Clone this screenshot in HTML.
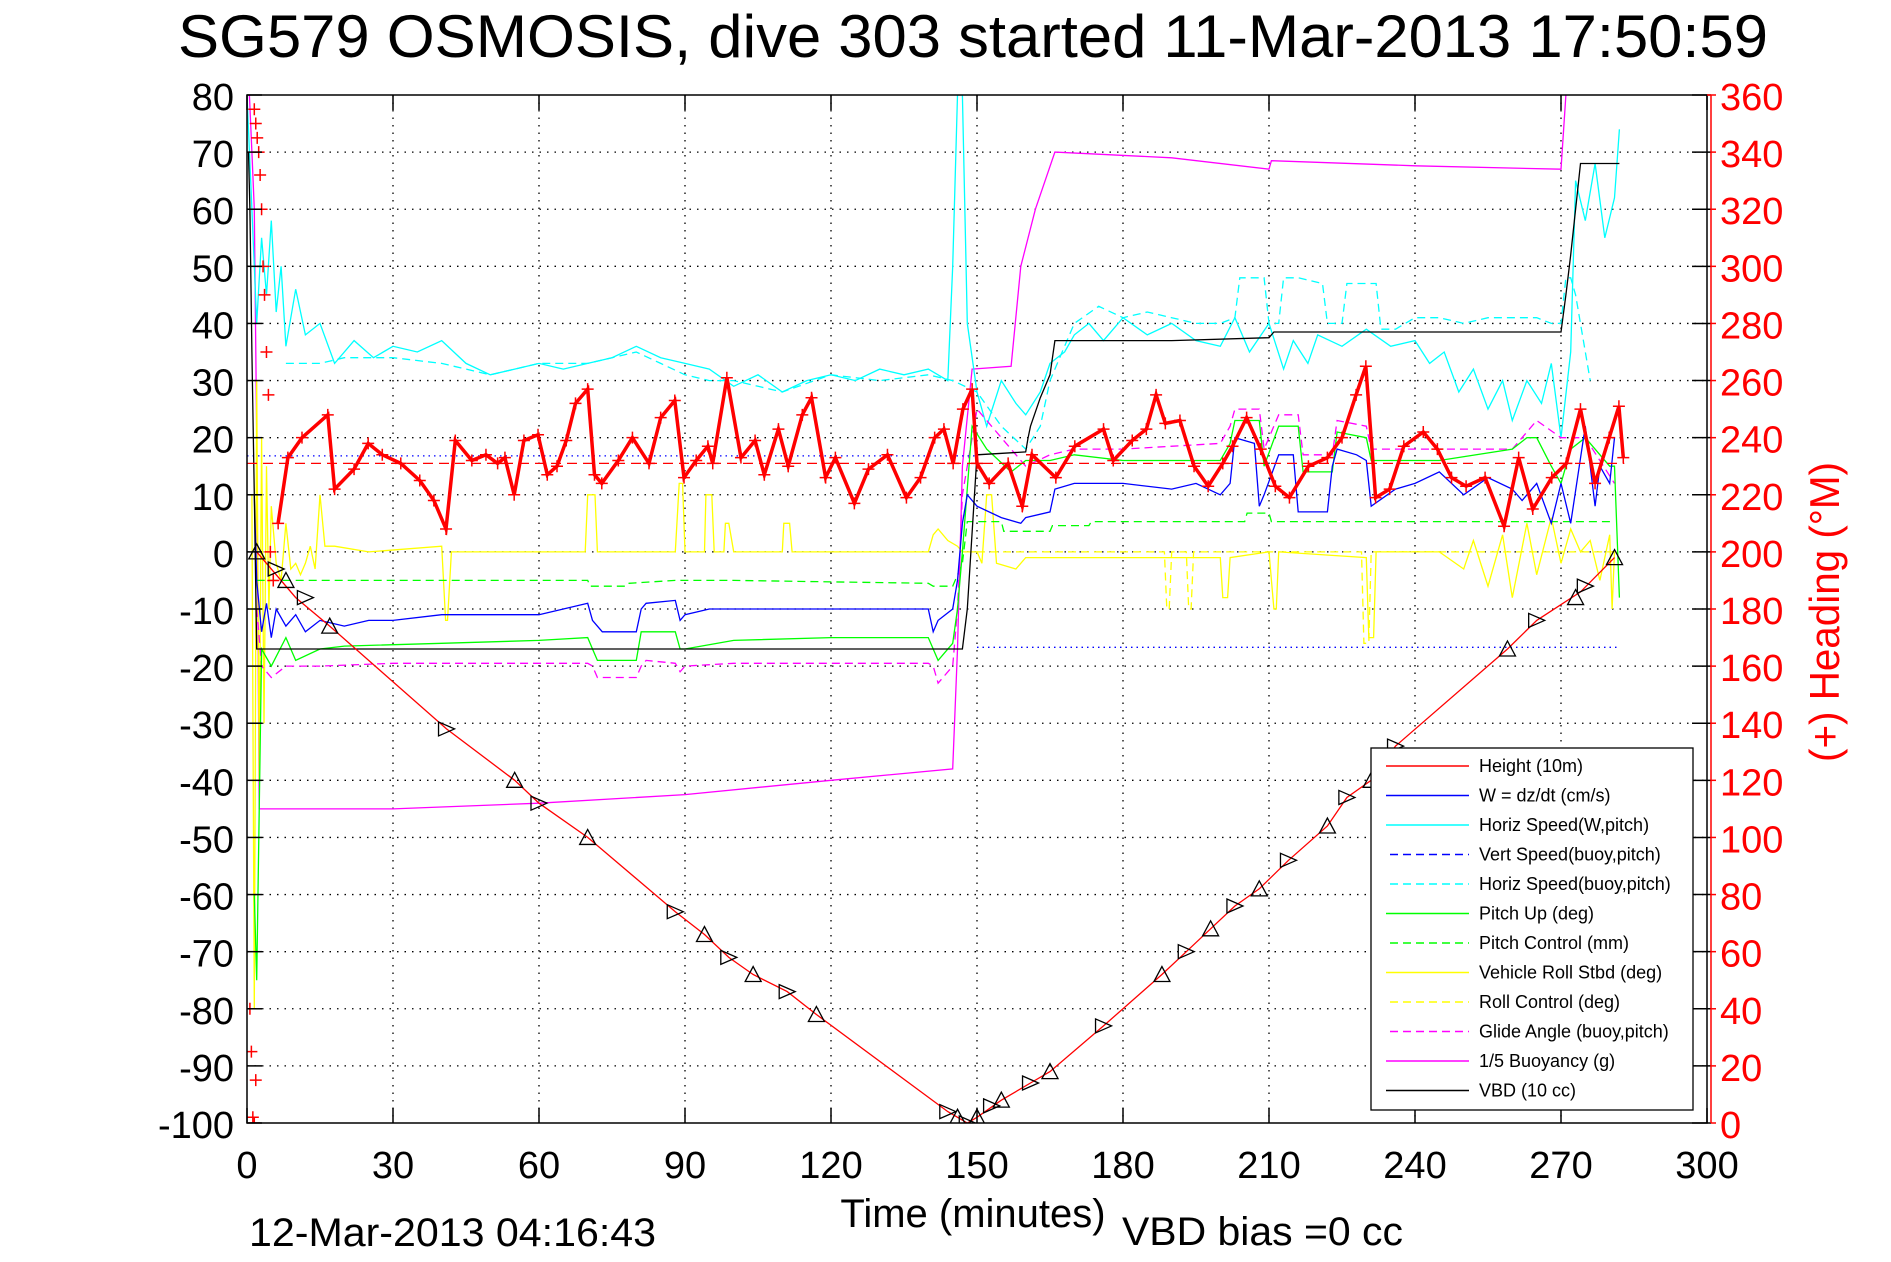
<!DOCTYPE html>
<html><head><meta charset="utf-8"><style>
html,body{margin:0;padding:0;background:#fff;}
svg{display:block;font-family:"Liberation Sans",sans-serif;}
</style></head><body>
<svg id="chart" width="1891" height="1262" viewBox="0 0 1891 1262" xmlns="http://www.w3.org/2000/svg">
<defs><clipPath id="pc"><rect x="247" y="95" width="1460" height="1028"/></clipPath></defs>
<rect x="0" y="0" width="1891" height="1262" fill="#fff"/>
<text x="973" y="57" font-size="60" text-anchor="middle" textLength="1590" lengthAdjust="spacingAndGlyphs">SG579 OSMOSIS, dive 303 started 11-Mar-2013 17:50:59</text>
<g id="grid"></g>
<g id="series" clip-path="url(#pc)"></g>
<g id="axes"></g>
<text x="973" y="1227" font-size="40" text-anchor="middle">Time (minutes)</text>
<text x="249" y="1246" font-size="40" textLength="407" lengthAdjust="spacingAndGlyphs">12-Mar-2013 04:16:43</text>
<text x="1122" y="1245" font-size="40" textLength="281" lengthAdjust="spacingAndGlyphs">VBD bias =0 cc</text>
<text transform="translate(1839,612) rotate(-90)" font-size="42" fill="#f00" text-anchor="middle" textLength="300" lengthAdjust="spacingAndGlyphs">(+) Heading (°M)</text>
<g id="legend"></g>
</svg>
<script>
const xTicks=[0,30,60,90,120,150,180,210,240,270,300];
const yTicks=[80,70,60,50,40,30,20,10,0,-10,-20,-30,-40,-50,-60,-70,-80,-90,-100];
const headTicks=[360,340,320,300,280,260,240,220,200,180,160,140,120,100,80,60,40,20,0];

const heightT=[2,10,17,41,55,60,70,88,94,99,104,111,117,144,148,150,155,161,165,176,188,193,198,203,208,214,222,226,231,236,259,265,274,281];
const heightV=[0,-8,-13,-31,-40,-44,-50,-63,-67,-71,-74,-77,-81,-98,-100,-99,-96,-93,-91,-83,-74,-70,-66,-62,-59,-54,-48,-43,-40,-34,-17,-12,-7,-1];
const markerT=[2,6,8,12,17,41,55,60,70,88,94,99,104,111,117,144,146,148,150,153,155,161,165,176,188,193,198,203,208,214,222,226,231,236,259,265,273,275,281];
const markerV=[0,-3,-5,-8,-13,-31,-40,-44,-50,-63,-67,-71,-74,-77,-81,-98,-99,-100,-99,-97,-96,-93,-91,-83,-74,-70,-66,-62,-59,-54,-48,-43,-40,-34,-17,-12,-8,-6,-1];

const headT=[6.4,8.4,11.3,16.6,18,22,24.9,27.8,31.6,35.5,38.4,40.9,42.8,46.2,49.1,51.5,53,54.9,56.9,59.8,61.7,63.7,65.6,67.5,70,71.4,72.9,76.3,79.2,82.6,85,87.9,89.8,92.3,94.7,95.7,98.6,101.5,104.4,106.3,109.2,111.2,114.1,116,118.9,120.9,124.8,127.7,131.6,135.5,138.4,141.3,143.2,145.1,147.1,149,150,152.5,156.4,159.3,161.3,166.2,170.1,176,178,181.9,184.8,186.8,188.7,191.7,194.6,197.5,200.5,202.5,205.4,208.3,211.3,214.2,218.1,222,225,227.9,229.9,231.9,234.8,237.7,241.7,244.6,247.5,250.5,254.4,258.3,261.3,264.2,268.1,271.1,274,277,279.9,281.9,282.8];
const headV=[210,233,240,248,222,229,238,234,231,225,218,208,239,232,234,231,233,220,239,241,227,230,239,252,257,227,224,232,240,231,247,253,226,232,237,231,261,233,239,227,243,230,248,254,226,233,217,229,234,219,226,240,243,231,250,257,231,224,231,216,234,226,237,243,232,239,243,255,245,246,230,223,231,237,247,236,223,219,230,233,240,255,265,219,222,237,242,236,226,223,226,209,233,215,226,231,250,224,240,251,233];
const headScatT=[1.5,1.8,2.1,2.4,2.7,3,3.3,3.6,4,4.4,0.6,0.9,1.2,1.5,1.8,4.8,5.4];
const headScatV=[355,350,345,340,332,320,300,290,270,255,40,25,2,0,15,200,190];
const headRef=231;

const hsT=[0,1,2,3,4,5,6,7,8,10,12,15,18,22,26,30,35,40,45,50,55,60,65,70,75,80,85,90,95,100,105,110,115,120,125,130,135,140,144,145,146,147,148,150,152,155,158,160,163,165,168,170,173,176,180,185,190,195,200,203,206,210,213,215,218,220,225,230,235,240,243,246,249,252,255,258,260,263,266,268,270,272,273,275,277,279,281,282];
const hsV=[80,60,40,55,45,58,42,50,36,46,38,40,33,37,34,36,35,37,33,31,32,33,32,33,34,36,34,33,32,29,31,28,30,31,30,32,31,32,30,50,80,80,40,28,22,30,26,24,28,33,35,38,40,37,41,38,40,37,36,41,35,40,32,37,33,38,36,39,36,37,33,35,28,32,25,30,23,30,26,33,20,35,65,58,68,55,62,74];
const hbT=[8,15,20,30,40,50,55,60,70,75,80,85,90,95,100,105,110,120,130,140,145,150,155,160,163,165,168,170,175,180,185,190,195,200,203,204,209,210,212,213,216,221,222,225,226,228,232,233,236,240,245,250,255,260,265,268,270,271,272,273,276];
const hbV=[33,33,34,34,33,31,32,33,33,34,35,33,31,30,30,29,28,31,30,31,30,28,22,18,22,30,36,40,43,41,42,41,40,40,41,48,48,40,40,48,48,47,40,40,47,47,47,39,39,41,41,40,41,41,41,40,40,48,48,45,30];
const wT=[1.5,2,3,4,5,6,8,10,12,15,20,25,30,40,50,60,70,71,73,80,81,82,88,89,90,95,100,110,120,130,140,141,142,145,146,147,148,150,155,159,160,165,166,170,180,190,195,200,202,203,207,208,209,212,215,216,222,223,224,228,230,231,236,240,245,250,255,260,262,265,268,270,272,275,277,278,280,281];
const wV=[10,-5,-14,-9,-15,-10,-13,-11,-14,-12,-13,-12,-12,-11,-11,-11,-9,-12,-14,-14,-10,-9,-8.5,-12,-11,-10,-10,-10,-10,-10,-10,-14,-12,-10,-5,5,10,8,6,5,6,7,11,12,12,11,12,10,12,20,19,8,10,17,17,7,7,15,18,17,16,8,11,12,14,10,13,11,9,12,5,12,5,22,8,15,12,20];
const pitchT=[1.5,2,3,5,8,10,15,20,40,60,70,71,72,80,81,88,89,90,100,120,140,141,142,145,146,147,149,152,157,160,165,170,180,200,202,203,208,209,212,216,217,223,224,230,231,245,260,263,265,268,270,272,275,280,281,282];
const pitchV=[-60,-75,-17,-20,-15,-19,-17,-16.5,-16,-15.5,-15,-17,-19,-19,-14,-14,-17,-17,-15.5,-15,-15,-17,-19,-16,-10,0,22,18,14,16,16,17,16,16,19,23,23,15,22,22,14,14,21,20,16,16,18,20,20,15,12,18,20,15,15,-8];
const pcT=[2,70,70.5,78,78.5,88,100,140,141,145,147,148,155,155.5,165,165.5,173,173.5,205,205.5,210,210.5,281];
const pcV=[-5,-5,-6,-6,-5.5,-5,-5,-5.5,-6,-6,-2,5.3,5.3,3.6,3.6,4.6,4.6,5.3,5.3,6.8,6.8,5.3,5.3];
const rollT=[1,1.5,2,2.5,3,3.5,4,4.5,5,6,7,8,9,10,11,12,13,14,15,16,18,25,40,40.8,41.2,42,60,69.5,70,71.5,72,88,88.8,89.5,90,94,94.3,95.5,96,98,98.3,99,100,110,110.3,111.5,112,120,140,141,142,144,146,147,148,150,151,152,153,154,158,160,170,190,200,200.5,201.5,202,210,211,211.5,212,230,230.5,231.5,232,245,250,252,255,258,260,263,265,268,270,272,274,276,278,280,280.5,281];
const rollV=[10,-80,30,-40,20,-30,15,-10,8,-2,-5,5,-3,-2,-4,-2,1,-3,10,1,1,0,1,-12,-12,0,0,0,10,10,0,0,12,12,0,0,10,10,0,0,5,5,0,0,5,5,0,0,0,3,4,2,1,0,0,0,-2,10,10,-2,-3,-1,-1,-1,-1,-8,-8,-1,0,-10,-10,0,-1,-15,-15,0,0,-3,2,-6,3,-8,5,-4,6,-2,4,0,2,-5,3,-10,0,0];
const rcT=[150,188.5,189,189.5,190,193,193.5,194,194.5,229,229.5,230.5,231,282];
const rcV=[0,0,-10,-10,0,0,-10,-10,0,0,-16,-16,0,0];
const glideT=[2,3,5,8,15,30,60,70,71,72,80,81,82,88,89,90,100,140,141,142,145,146,147,150,155,160,165,170,180,200,202,203,208,209,212,216,217,223,224,230,231,245,260,263,265,270,275,281];
const glideV=[-10,-20,-22,-20,-20,-19.5,-19.5,-19.5,-20,-22,-22,-20,-19,-19.5,-21,-20,-19.5,-19.5,-20,-23,-20,-10,10,25,20,15,17,18,18,19,22,25,25,18,24,24,17,17,23,22,18,18,18,21,23,20,20,12];
const buoyT=[0.5,1,1.5,2,2.5,10,30,60,90,120,145,146,147,149,157,159,162,166,190,210,210.5,240,270,271,272];
const buoyV=[80,70,60,20,-45,-45,-45,-44,-42.5,-40,-38,-17,15,32,32.5,50,60,70,69,67,68.5,67.6,67,80,90];
const vbdT=[0.3,0.6,1,1.5,2,147,148,150,160,160.5,161,163,165,166,190,210,211,270,271,272,273,274,282];
const vbdV=[70,60,35,10,-17,-17,-10,17,17.5,20,22,27,31,37,37,37.5,38.5,38.5,45,52,60,68,68];
const vsT1=[0,150];const vsV1=[16.8,16.8];
const vsT2=[150,282];const vsV2=[-16.7,-16.7];

const NS="http://www.w3.org/2000/svg";
const X=t=>247+t*(1707-247)/300;
const Y=v=>95+(80-v)*(1123-95)/180;
const YH=h=>Y(h/2-100);
function mk(tag,attrs,parent){const e=document.createElementNS(NS,tag);for(const k in attrs)e.setAttribute(k,attrs[k]);parent.appendChild(e);return e;}
const grid=document.getElementById('grid'),ser=document.getElementById('series'),axes=document.getElementById('axes'),leg=document.getElementById('legend');

xTicks.forEach(t=>{
  if(t>0&&t<300){const g=mk('line',{x1:X(t),x2:X(t),y1:95,y2:1123,stroke:'#000','stroke-width':1.3,'stroke-dasharray':'1.5 6'},grid);
  
  }
  mk('line',{x1:X(t),x2:X(t),y1:1123,y2:1108,stroke:'#000','stroke-width':1.5},axes);
  mk('line',{x1:X(t),x2:X(t),y1:95,y2:110,stroke:'#000','stroke-width':1.5},axes);
  const l=mk('text',{x:X(t),y:1178,'font-size':38,'text-anchor':'middle'},axes);l.textContent=t;
  
  
});
yTicks.forEach(v=>{
  if(v>-100&&v<80){const g=mk('line',{x1:247,x2:1707,y1:Y(v),y2:Y(v),stroke:'#000','stroke-width':1.3,'stroke-dasharray':'1.5 6'},grid);
  
  }
  mk('line',{x1:247,x2:262,y1:Y(v),y2:Y(v),stroke:'#000','stroke-width':1.5},axes);
  mk('line',{x1:1692,x2:1711,y1:Y(v),y2:Y(v),stroke:'#000','stroke-width':1.5},axes);
  const l=mk('text',{x:234,y:Y(v)+15,'font-size':38,'text-anchor':'end'},axes);l.textContent=v;
  
  
});
headTicks.forEach(h=>{
  mk('line',{x1:1711,x2:1716,y1:YH(h),y2:YH(h),stroke:'#f00','stroke-width':1.5},axes);
  const l=mk('text',{x:1720,y:YH(h)+15,'font-size':38,fill:'#f00'},axes);l.textContent=h;
  
  
});
mk('rect',{x:247,y:95,width:1460,height:1028,fill:'none',stroke:'#000','stroke-width':1.5},axes);
mk('line',{x1:1711,x2:1711,y1:95,y2:1123,stroke:'#f00','stroke-width':1.5},axes);
mk('line',{x1:1707,x2:1711,y1:95,y2:95,stroke:'#f00','stroke-width':1.5},axes);

function line(ts,vs,color,name,opts){
  opts=opts||{};const yf=opts.yf||Y;
  const p=mk('polyline',{points:ts.map((t,i)=>X(t).toFixed(1)+','+yf(vs[i]).toFixed(1)).join(' '),fill:'none',stroke:color,'stroke-width':opts.w||1.3},ser);
  if(opts.dash)p.setAttribute('stroke-dasharray',opts.dash);
  
  
  return p;
}
line(buoyT,buoyV,'#f0f','buoyancy-line');
line(hsT,hsV,'#0ff','horiz-speed-w-pitch-line');
line(hbT,hbV,'#0ff','horiz-speed-buoy-line',{dash:'8 5'});
line(rcT,rcV,'#ff0','roll-control-line',{dash:'8 5'});
line(rollT,rollV,'#ff0','vehicle-roll-line');
line(pcT,pcV,'#0f0','pitch-control-line',{dash:'8 5'});
line(glideT,glideV,'#f0f','glide-angle-line',{dash:'8 5'});
line(pitchT,pitchV,'#0f0','pitch-up-line');
line(wT,wV,'#00f','w-dzdt-line');
line(vsT1,vsV1,'#00f','vert-speed-buoy-line',{dash:'1.5 4'});
line(vsT2,vsV2,'#00f','vert-speed-buoy-line-2',{dash:'1.5 4'});
line(vbdT,vbdV,'#000','vbd-line');
line(heightT,heightV,'#f00','height-line');
line([0,283],[headRef,headRef],'#f00','heading-mean-line',{yf:YH,dash:'10 6',w:1.3});
line(headT,headV,'#f00','heading-trace',{yf:YH,w:3.5});
function plus(t,h,name){
  const x=X(t),y=YH(h);
  const g=mk('path',{d:`M${x-6},${y}H${x+6}M${x},${y-6}V${y+6}`,stroke:'#f00','stroke-width':1.5,fill:'none'},ser);
  
  
}
headT.forEach((t,i)=>plus(t,headV[i],'heading-marker'));
headScatT.forEach((t,i)=>plus(t,headScatV[i],'heading-marker'));
markerT.forEach((t,i)=>{
  const x=X(t),y=Y(markerV[i]);
  const up=i%2===0;
  const d=up?`M${x-8},${y+7}L${x},${y-8}L${x+8},${y+7}Z`:`M${x-8},${y-7}L${x+8},${y}L${x-8},${y+7}Z`;
  const m=mk('path',{d:d,fill:'none',stroke:'#000','stroke-width':1.3},ser);
  
  
});

const legLabels=['Height (10m)','W = dz/dt (cm/s)','Horiz Speed(W,pitch)','Vert Speed(buoy,pitch)','Horiz Speed(buoy,pitch)','Pitch Up (deg)','Pitch Control (mm)','Vehicle Roll Stbd (deg)','Roll Control (deg)','Glide Angle (buoy,pitch)','1/5 Buoyancy (g)','VBD (10 cc)'];
const legColors=['#f00','#00f','#0ff','#00f','#0ff','#0f0','#0f0','#ff0','#ff0','#f0f','#f0f','#000'];
const legDash=[0,0,0,1,1,0,1,0,1,1,0,0];
const box=mk('rect',{x:1371,y:748,width:322,height:362,fill:'#fff',stroke:'#000','stroke-width':1.3},leg);


legLabels.forEach((s,i)=>{
  const y=766+i*29.5;
  const l=mk('line',{x1:legDash[i]?1390:1386,x2:1469,y1:y,y2:y,stroke:legColors[i],'stroke-width':1.5},leg);
  if(legDash[i])l.setAttribute('stroke-dasharray','8 5');
  
  
  const t=mk('text',{x:1479,y:y+6,'font-size':18},leg);t.textContent=s;
  
  
});
</script>
</body></html>
